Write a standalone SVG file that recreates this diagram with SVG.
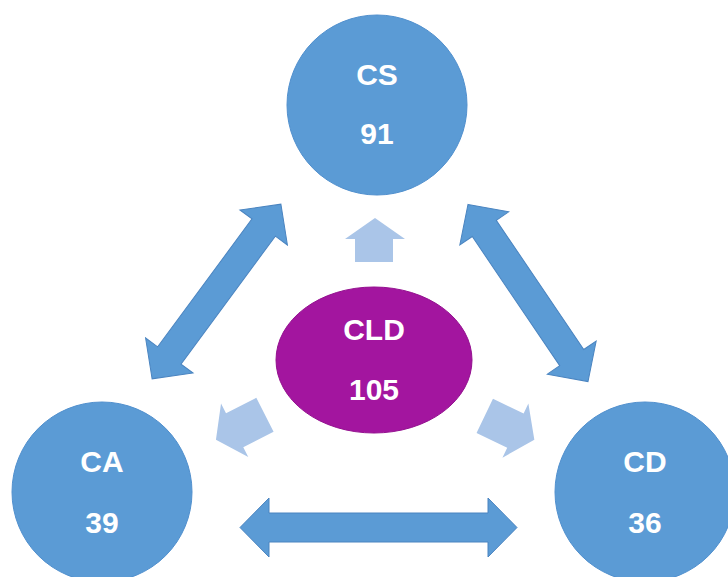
<svg xmlns="http://www.w3.org/2000/svg" width="728" height="577" viewBox="0 0 728 577">
  <style>
    .node { fill: #5B9BD5; stroke: #5190CE; stroke-width: 1; }
    .core { fill: #A3159F; stroke: #94108F; stroke-width: 1; }
    .label { font-family: "Liberation Sans", Arial, sans-serif; font-weight: bold; font-size: 30px; fill: #FFFFFF; text-anchor: middle; }
    .link { fill: #5B9BD5; stroke: #4A84C0; stroke-width: 1; stroke-linejoin: miter; }
    .flow { fill: #AAC5E8; stroke: none; }
  </style>
  <defs>
    <!-- double-headed block arrow, 217 long, centred on the origin along x -->
    <path id="dbl217" d="M-108.5,0 L-79.5,-29.5 L-79.5,-14.5 L79.5,-14.5 L79.5,-29.5 L108.5,0 L79.5,29.5 L79.5,14.5 L-79.5,14.5 L-79.5,29.5 Z"/>
    <path id="dbl214" d="M-107,0 L-78,-29.5 L-78,-14.5 L78,-14.5 L78,-29.5 L107,0 L78,29.5 L78,14.5 L-78,14.5 L-78,29.5 Z"/>
    <!-- single block arrow pointing up, centred on the origin -->
    <path id="up55" d="M0,-27 L30,-6 L19,-6 L19,28 L-19,28 L-19,-6 L-30,-6 Z"/>
  </defs>

  <rect x="0" y="0" width="728" height="577" fill="#FFFFFF"/>

  <!-- connectors -->
  <g id="connectors">
    <use href="#dbl217" class="link" transform="translate(216.5,291.5) rotate(-53.6)"/>
    <use href="#dbl214" class="link" transform="translate(528,293) rotate(55.9)"/>
    <path class="link" d="M240,527.5 L269,498 L269,513 L488,513 L488,498 L517,527.5 L488,557 L488,542 L269,542 L269,557 Z"/>
    <polygon class="flow" points="375,218 405,239 393,239 393,262 355,262 355,239 345,239"/>
    <use href="#up55" class="flow" transform="translate(240,427.5) rotate(-117)"/>
    <use href="#up55" class="flow" transform="translate(510,428) rotate(115.6)"/>
  </g>

  <g id="node-cs">
    <circle class="node" cx="377" cy="105" r="90"/>
    <text class="label" x="377" y="85">CS</text>
    <text class="label" x="377" y="144">91</text>
  </g>

  <g id="node-cld">
    <ellipse class="core" cx="374" cy="360" rx="98" ry="73"/>
    <text class="label" x="374" y="340">CLD</text>
    <text class="label" x="374" y="400">105</text>
  </g>

  <g id="node-ca">
    <circle class="node" cx="102" cy="492" r="90"/>
    <text class="label" x="102" y="472">CA</text>
    <text class="label" x="102" y="533">39</text>
  </g>

  <g id="node-cd">
    <circle class="node" cx="645" cy="492" r="90"/>
    <text class="label" x="645" y="472">CD</text>
    <text class="label" x="645" y="533">36</text>
  </g>
</svg>
